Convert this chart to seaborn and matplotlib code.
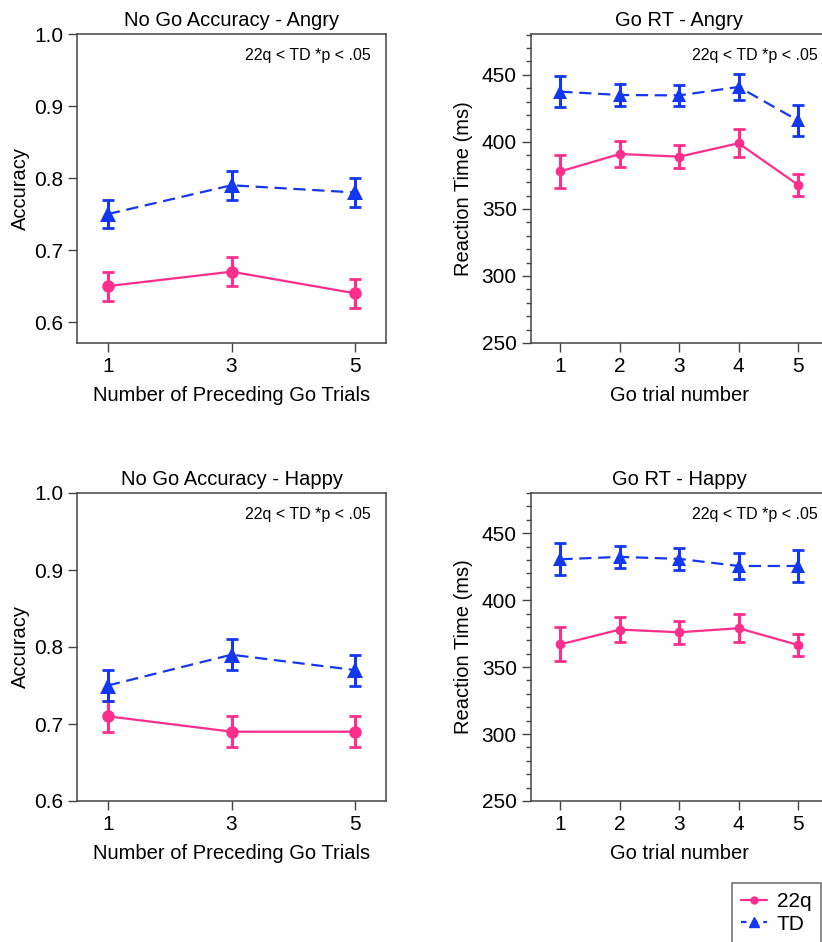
import numpy as np
import pandas as pd
import matplotlib
matplotlib.use("Agg")
import matplotlib.pyplot as plt
from matplotlib.ticker import MultipleLocator
from matplotlib.lines import Line2D
import seaborn as sns

sns.set_theme(style="ticks")
plt.rcParams["font.family"] = ["Liberation Sans", "DejaVu Sans"]
plt.rcParams["text.color"] = "black"
plt.rcParams["axes.labelcolor"] = "black"
plt.rcParams["xtick.labelcolor"] = "black"
plt.rcParams["ytick.labelcolor"] = "black"

# ---- data -------------------------------------------------------------
groups = ["22q", "TD"]

nogo_trials = [1, 3, 5]
nogo_angry_22q = [0.65, 0.67, 0.64]
nogo_angry_22q_se = [0.02, 0.02, 0.02]
nogo_angry_td = [0.75, 0.79, 0.78]
nogo_angry_td_se = [0.02, 0.02, 0.02]
nogo_happy_22q = [0.71, 0.69, 0.69]
nogo_happy_22q_se = [0.02, 0.02, 0.02]
nogo_happy_td = [0.75, 0.79, 0.77]
nogo_happy_td_se = [0.02, 0.02, 0.02]

go_trials = [1, 2, 3, 4, 5]
rt_angry_22q = [378, 391, 389, 399, 368]
rt_angry_22q_se = [12.6, 9.7, 8.4, 10.4, 8.4]
rt_angry_td = [437.5, 435, 434.7, 441, 416]
rt_angry_td_se = [11.5, 8, 8, 9.5, 11.5]
rt_happy_22q = [367, 378, 376, 379, 366.5]
rt_happy_22q_se = [12.6, 9.6, 8.4, 10.4, 8.2]
rt_happy_td = [430.5, 432.3, 430.8, 425.5, 425.5]
rt_happy_td_se = [11.9, 8.1, 8.1, 9.4, 11.6]

# ---- style ------------------------------------------------------------
PINK = "#FF2E8C"
BLUE = "#1438F0"
SPINE = "#444444"
palette = {"22q": PINK, "TD": BLUE}
markers = {"22q": "o", "TD": "^"}
dashes = {"22q": "", "TD": (5.5, 3)}

W, H = 822, 942
fig = plt.figure(figsize=(W / 100, H / 100), dpi=100)


def px_axes(left, top, right, bottom):
    return fig.add_axes([left / W, 1 - bottom / H, (right - left) / W, (bottom - top) / H])


def draw_panel(ax, x, y22, e22, ytd, etd, title, xlabel, ylabel, big):
    df = pd.DataFrame({
        "x": list(x) * 2,
        "y": list(y22) + list(ytd),
        "group": ["22q"] * len(x) + ["TD"] * len(x),
    })
    ms_c = 9 if big else 7
    ms_t = 11 if big else 10
    for g, yy, ee in (("22q", y22, e22), ("TD", ytd, etd)):
        ax.errorbar(x, yy, yerr=ee, fmt="none", ecolor=palette[g],
                    elinewidth=2.2, capsize=4, capthick=2, zorder=2)
    sns.lineplot(data=df, x="x", y="y", hue="group", style="group",
                 palette=palette, markers=markers, dashes=dashes,
                 linewidth=1.6, markersize=ms_c, markeredgewidth=0,
                 legend=False, ax=ax, zorder=3)
    # triangles read a little smaller than circles at equal size
    for line in ax.get_lines():
        if line.get_marker() == "^":
            line.set_markersize(ms_t)
    ax.set_title(title, fontsize=14.5, pad=6, color="black")
    ax.set_xlabel(xlabel, fontsize=14.5, labelpad=7)
    ax.set_ylabel(ylabel, fontsize=14.5)
    ax.set_xlim(0.5, 5.5)
    ax.set_xticks(x)
    ax.tick_params(axis="both", labelsize=15, direction="out", length=6.5,
                   width=1, color=SPINE, pad=3.5)
    ax.tick_params(axis="y", which="minor", direction="out", length=3.6,
                   width=1, color=SPINE)
    for s in ax.spines.values():
        s.set_color(SPINE)
        s.set_linewidth(1.1)
    ax.text(0.95, 0.955, "22q < TD *p < .05", transform=ax.transAxes,
            ha="right", va="top", fontsize=11.5, color="black")


# No Go accuracy panels
ax1 = px_axes(77, 34, 386, 343)
draw_panel(ax1, nogo_trials, nogo_angry_22q, nogo_angry_22q_se,
           nogo_angry_td, nogo_angry_td_se, "No Go Accuracy - Angry",
           "Number of Preceding Go Trials", "Accuracy", True)
ax1.set_ylim(0.571, 1.0)
ax1.set_yticks([0.6, 0.7, 0.8, 0.9, 1.0])
ax1.yaxis.labelpad = 3

ax3 = px_axes(77, 493, 386, 801)
draw_panel(ax3, nogo_trials, nogo_happy_22q, nogo_happy_22q_se,
           nogo_happy_td, nogo_happy_td_se, "No Go Accuracy - Happy",
           "Number of Preceding Go Trials", "Accuracy", True)
ax3.set_ylim(0.6, 1.0)
ax3.set_yticks([0.6, 0.7, 0.8, 0.9, 1.0])
ax3.yaxis.labelpad = 3

# Go reaction-time panels
ax2 = px_axes(530.7, 34, 827.7, 343)
draw_panel(ax2, go_trials, rt_angry_22q, rt_angry_22q_se,
           rt_angry_td, rt_angry_td_se, "Go RT - Angry",
           "Go trial number", "Reaction Time (ms)", False)
ax2.set_ylim(250, 480.5)
ax2.set_yticks([250, 300, 350, 400, 450])
ax2.yaxis.set_minor_locator(MultipleLocator(10))
ax2.yaxis.labelpad = 6.5

ax4 = px_axes(530.7, 493, 827.7, 801)
draw_panel(ax4, go_trials, rt_happy_22q, rt_happy_22q_se,
           rt_happy_td, rt_happy_td_se, "Go RT - Happy",
           "Go trial number", "Reaction Time (ms)", False)
ax4.set_ylim(250, 480)
ax4.set_yticks([250, 300, 350, 400, 450])
ax4.yaxis.set_minor_locator(MultipleLocator(10))
ax4.yaxis.labelpad = 6.5

for ax in (ax2, ax4):
    for t in ax.texts:
        t.set_position((0.965, 0.955))

# shared legend in the lower-right corner
handles = [
    Line2D([], [], color=PINK, marker="o", markersize=5, lw=1.6),
    Line2D([], [], color=BLUE, marker="^", markersize=7, lw=1.6,
           dashes=(2.5, 2.5)),
]
leg = fig.legend(handles, groups, loc="upper left",
                 bbox_to_anchor=(732 / W, 1 - 883 / H), fontsize=15,
                 frameon=True, fancybox=False, handlelength=1.25,
                 handletextpad=0.45, borderpad=0.45, labelspacing=0.15,
                 borderaxespad=0)
leg.get_frame().set_edgecolor(SPINE)
leg.get_frame().set_linewidth(1.1)

fig.savefig("out.png", dpi=100)
